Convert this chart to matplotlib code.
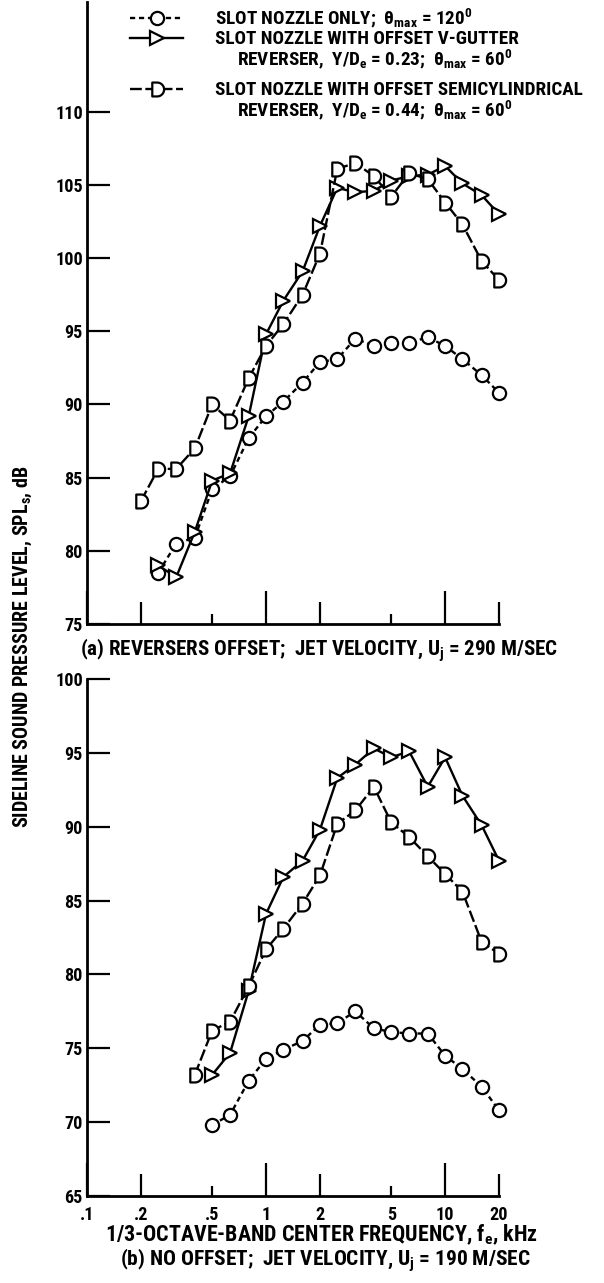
import numpy as np
import matplotlib
matplotlib.use('Agg')
import matplotlib.pyplot as plt
from matplotlib import font_manager
from matplotlib.path import Path
from matplotlib.lines import Line2D
from matplotlib.ticker import FixedLocator, NullLocator, FixedFormatter

# ---------------- data ----------------
freq = [0.2, 0.25, 0.315, 0.4, 0.5, 0.63, 0.8, 1, 1.25, 1.6, 2, 2.5, 3.15,
        4, 5, 6.3, 8, 10, 12.5, 16, 20]

# (a) reversers offset, Uj = 290 m/s
a_slot_f = freq[1:]
a_slot = [78.5, 80.5, 80.9, 84.2, 85.1, 87.7, 89.2, 90.2, 91.5, 92.9, 93.1,
          94.5, 94.0, 94.2, 94.2, 94.6, 94.0, 93.1, 92.0, 90.8]
a_vg_f = freq[1:]
a_vg = [79.0, 78.2, 81.3, 84.8, 85.3, 89.2, 94.8, 97.1, 99.1, 102.2, 104.8,
        104.5, 104.6, 105.3, 105.6, 105.7, 106.3, 105.1, 104.3, 103.0]
a_sc_f = freq[:]
a_sc = [83.4, 85.6, 85.6, 87.0, 90.0, 88.9, 91.8, 94.0, 95.5, 97.5, 100.3,
        106.1, 106.5, 105.6, 104.2, 105.8, 105.4, 103.8, 102.3, 99.8, 98.5]

# (b) no offset, Uj = 190 m/s
b_slot_f = freq[4:]
b_slot = [69.8, 70.5, 72.8, 74.3, 74.9, 75.5, 76.6, 76.7, 77.5, 76.35, 76.1,
          76.0, 76.0, 74.5, 73.6, 72.4, 70.8]
b_vg_f = freq[4:]
b_vg = [73.2, 74.7, 78.9, 84.1, 86.6, 87.7, 89.8, 93.3, 94.2, 95.3, 94.7,
        95.1, 92.7, 94.7, 92.1, 90.1, 87.7]
b_sc_f = freq[3:]
b_sc = [73.2, 76.2, 76.8, 79.2, 81.7, 83.1, 84.8, 86.7, 90.2, 91.1, 92.7,
        90.3, 89.3, 88.0, 86.8, 85.6, 82.2, 81.4]

xticks = [0.1, 0.2, 0.5, 1, 2, 5, 10, 20]
xticklabels = ['.1', '.2', '.5', '1', '2', '5', '10', '20']
a_yticks = [75, 80, 85, 90, 95, 100, 105, 110]
b_yticks = [65, 70, 75, 80, 85, 90, 95, 100]

legend_labels = [
    ["SLOT NOZZLE ONLY;  \u03b8$_{max}$ = 120$^0$"],
    ["SLOT NOZZLE WITH OFFSET V-GUTTER",
     "REVERSER,  Y/D$_e$ = 0.23;  \u03b8$_{max}$ = 60$^0$"],
    ["SLOT NOZZLE WITH OFFSET SEMICYLINDRICAL",
     "REVERSER,  Y/D$_e$ = 0.44;  \u03b8$_{max}$ = 60$^0$"],
]

# ---------------- fonts ----------------
names = {f.name for f in font_manager.fontManager.ttflist}
FONT = 'DejaVu Sans'
for cand in ('Liberation Sans Narrow', 'Roboto Condensed', 'Open Sans Condensed'):
    if cand in names:
        FONT = cand
        break
plt.rcParams.update({
    'font.family': [FONT, 'DejaVu Sans'],
    'font.weight': 'bold',
    'mathtext.fontset': 'custom',
    'mathtext.rm': f'{FONT}:bold',
    'mathtext.it': f'{FONT}:bold',
    'mathtext.bf': f'{FONT}:bold',
})

W, H = 604, 1283
fig = plt.figure(figsize=(W / 100, H / 100), dpi=100)

# size the font so the longest legend line matches the reference width
_probe = fig.text(0, 0, legend_labels[2][0], fontsize=10)
_w = _probe.get_window_extent(renderer=fig.canvas.get_renderer()).width
_probe.remove()
FS = 10 * 366 / _w
plt.rcParams['font.size'] = FS

# D-shaped marker
th = np.linspace(-np.pi / 2, np.pi / 2, 25)
dverts = [(-0.75, -1.0)] + [(-0.05 + np.cos(t), np.sin(t)) for t in th] + [(-0.75, 1.0), (-0.75, -1.0)]
dcodes = [Path.MOVETO] + [Path.LINETO] * (len(dverts) - 2) + [Path.CLOSEPOLY]
D_MARK = Path(dverts, dcodes)

LW = 1.7
MEW = 1.6
styles = {
    'slot': dict(marker='o', markersize=9.5, dashes=(2.2, 1.6)),
    'vg': dict(marker='>', markersize=10, linestyle='-'),
    'sc': dict(marker=D_MARK, markersize=10, dashes=(5, 1.5)),
}
common = dict(color='black', lw=LW, markerfacecolor='white',
              markeredgecolor='black', markeredgewidth=MEW, clip_on=False)


def px_axes(x0, y0, x1, y1):
    return fig.add_axes([x0 / W, 1 - y1 / H, (x1 - x0) / W, (y1 - y0) / H])


ax1 = px_axes(87, 2, 499, 624)
ax2 = px_axes(87, 679, 499, 1196)

tick_len = {0.1: 24, 0.2: 16, 0.5: 7, 1: 24, 2: 16, 5: 7, 10: 24, 20: 16}
TFS = FS * 0.95


def style_axes(ax, yticks, ylim, show_xlabels):
    ax.set_xscale('log')
    ax.set_xlim(0.1, 20)
    ax.set_ylim(*ylim)
    for s in ('top', 'right'):
        ax.spines[s].set_visible(False)
    for s in ('left', 'bottom'):
        ax.spines[s].set_linewidth(2)
    ax.xaxis.set_major_locator(FixedLocator(xticks))
    ax.xaxis.set_minor_locator(NullLocator())
    ax.xaxis.set_major_formatter(FixedFormatter(xticklabels))
    ax.set_yticks(yticks)
    ax.yaxis.set_minor_locator(NullLocator())
    ax.tick_params(axis='x', direction='in', width=1.6, pad=7,
                   labelsize=TFS, labelbottom=show_xlabels)
    ax.tick_params(axis='y', direction='in', width=1.6, length=16.5,
                   pad=3, labelsize=TFS)
    for t, v in zip(ax.xaxis.get_major_ticks(), xticks):
        t.tick1line.set_markersize(tick_len[v])
        t.tick1line.set_markeredgewidth(1.6)


style_axes(ax1, a_yticks, (75, 117.5), False)
style_axes(ax2, b_yticks, (65, 100), True)

ax1.plot(a_slot_f, a_slot, **styles['slot'], **common)
ax1.plot(a_vg_f, a_vg, **styles['vg'], **common)
ax1.plot(a_sc_f, a_sc, **styles['sc'], **common)

ax2.plot(b_slot_f, b_slot, **styles['slot'], **common)
ax2.plot(b_vg_f, b_vg, **styles['vg'], **common)
ax2.plot(b_sc_f, b_sc, **styles['sc'], **common)

# ---------------- legend (drawn manually) ----------------
leg_rows = [(18, 'slot'), (38, 'vg'), (89, 'sc')]
for (yc, key), lines in zip(leg_rows, legend_labels):
    yf = 1 - yc / H
    ln = Line2D([130 / W, 156.5 / W, 183 / W], [yf, yf, yf],
                transform=fig.transFigure, markevery=[1],
                **styles[key], **common)
    fig.add_artist(ln)
    for i, txt in enumerate(lines):
        x = 215 if i == 0 else 237
        yb = yc + 6 + 21 * i
        fig.text(x / W, 1 - yb / H, txt, ha='left', va='baseline', fontsize=FS)

# ---------------- captions ----------------
fig.text(80 / W, 1 - 656 / H,
         "(a) REVERSERS OFFSET;  JET VELOCITY, U$_j$ = 290 M/SEC",
         ha='left', va='baseline', fontsize=FS * 1.10)
fig.text(105 / W, 1 - 1241 / H,
         "1/3-OCTAVE-BAND CENTER FREQUENCY, f$_e$, kHz",
         ha='left', va='baseline', fontsize=FS * 1.15)
fig.text(120 / W, 1 - 1266 / H,
         "(b) NO OFFSET;  JET VELOCITY, U$_j$ = 190 M/SEC",
         ha='left', va='baseline', fontsize=FS * 1.12)
fig.text(23 / W, 1 - 828 / H,
         "SIDELINE SOUND PRESSURE LEVEL, SPL$_s$, dB",
         rotation=90, ha='center', va='bottom', fontsize=FS * 1.045)

fig.savefig('out.png', dpi=100)
